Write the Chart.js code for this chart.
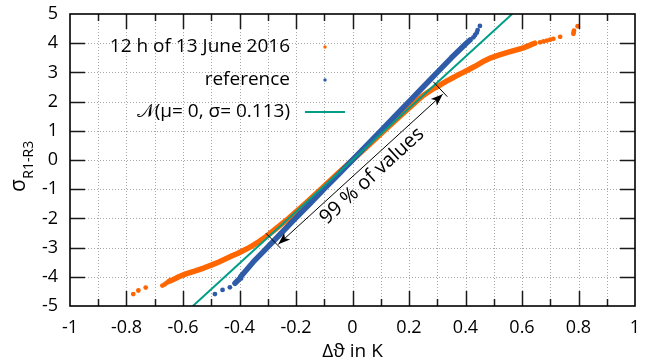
<!DOCTYPE html>
<html><head><meta charset="utf-8">
<script src="https://cdn.jsdelivr.net/npm/chart.js@4"></script>
<style>html,body{margin:0;padding:0;background:#fff}canvas{display:block}</style>
</head><body>
<canvas id="c" width="646" height="362"></canvas>
<script>
// ---------- data ----------
const seriesNames = ['12 h of 13 June 2016', 'reference', '\u{1D4A9}(\u03bc= 0, \u03c3= 0.113)'];

// 12 h of 13 June 2016 : dense band
const orangeBandY = [-4.14,-4.1,-4.05,-4.0,-3.9,-3.8,-3.7,-3.6,-3.5,-3.4,-3.3,-3.2,-3.1,-3.0,-2.9,-2.8,-2.7,-2.6,-2.5,-2.0,-1.5,-1.0,-0.5,0,0.5,1.0,1.5,2.0,2.2,2.4,2.5,2.6,2.7,2.8,2.9,3.0,3.1,3.2,3.3,3.4,3.5,3.6,3.7,3.8,3.85,3.9,3.95,4.0];
const orangeBandX = [-0.646,-0.636,-0.625,-0.615,-0.59,-0.556,-0.527,-0.50,-0.475,-0.452,-0.43,-0.407,-0.386,-0.366,-0.348,-0.332,-0.317,-0.303,-0.29,-0.226,-0.168,-0.112,-0.056,0,0.056,0.112,0.168,0.225,0.249,0.279,0.297,0.315,0.333,0.352,0.371,0.392,0.412,0.432,0.45,0.468,0.49,0.52,0.555,0.59,0.608,0.62,0.632,0.645];
// 12 h of 13 June 2016 : isolated tail values
const orangeTailY = [-4.59,-4.47,-4.37,-4.30,-4.26,-4.21,-4.17,4.03,4.06,4.09,4.12,4.15,4.22,4.32,4.38,4.43,4.58];
const orangeTailX = [-0.776,-0.758,-0.732,-0.673,-0.665,-0.658,-0.652,0.664,0.676,0.688,0.70,0.711,0.735,0.782,0.783,0.784,0.797];

// reference : dense band
const blueBandY = [-4.22,-4.05,-4.0,-3.5,-3.0,-2.5,-2.0,-1.5,-1.0,-0.5,0,0.5,1.0,1.5,2.0,2.5,3.0,3.5,4.0,4.11];
const blueBandX = [-0.416,-0.398,-0.396,-0.352,-0.302,-0.252,-0.202,-0.151,-0.101,-0.05,0,0.05,0.1,0.15,0.2,0.25,0.3,0.35,0.403,0.416];
// reference : isolated tail values
const blueTailY = [-4.59,-4.45,-4.36,4.2,4.28,4.36,4.45,4.59];
const blueTailX = [-0.487,-0.46,-0.434,0.428,0.434,0.44,0.443,0.451];

// N(0, 0.113) line
const normY = [-5, 5];
const normX = [-0.565, 0.565];

// axes
const xTickLabels = ['-1','-0.8','-0.6','-0.4','-0.2','0','0.2','0.4','0.6','0.8','1'];
const yTickLabels = ['-5','-4','-3','-2','-1','0','1','2','3','4','5'];

// annotation (data space): arrow tips, end bars, label
const arrowTips = [[-0.2627,-2.887],[0.3193,2.25]];
const barLow = [[-0.3062,-2.51],[-0.254,-3.024]];
const barHigh = [[0.286,2.68],[0.3356,2.168]];
const annoLabel = '99 % of values';
const annoLabelAt = [0.069,-0.548];

// ---------- styling ----------
const C_OR = '#ff6600', C_BL = '#2e5ca8', C_TE = '#009e87';
const FONT = "'Open Sans','DejaVu Sans',sans-serif";

const pts = (xs, ys) => xs.map((x, i) => ({x, y: ys[i]}));

const deco = {
  id: 'deco',
  beforeDatasetsDraw(chart) {
    const {ctx, chartArea: a, scales: {x, y}} = chart;
    ctx.save();
    ctx.strokeStyle = '#a8a8a8';
    ctx.lineWidth = 1;
    ctx.setLineDash([1, 2]);
    x.ticks.forEach(t => {
      if (Math.abs(t.value) > 0.99) return;
      const px = Math.round(x.getPixelForValue(t.value)) + 0.5;
      ctx.beginPath(); ctx.moveTo(px, a.top); ctx.lineTo(px, a.bottom); ctx.stroke();
    });
    y.ticks.forEach(t => {
      if (Math.abs(t.value) > 4.99) return;
      const py = Math.round(y.getPixelForValue(t.value)) + 0.5;
      ctx.beginPath(); ctx.moveTo(a.left, py); ctx.lineTo(a.right, py); ctx.stroke();
    });
    ctx.restore();
  },
  afterDatasetsDraw(chart) {
    const {ctx, chartArea: a, scales: {x, y}} = chart;
    ctx.save();
    // inward ticks
    ctx.strokeStyle = '#1a1a1a';
    ctx.lineWidth = 1.5;
    x.ticks.forEach(t => {
      const k = Math.round(t.value * 10);
      if (Math.abs(k) === 10) return;
      const len = (k % 2 === 0) ? 15 : 7;
      const px = Math.round(x.getPixelForValue(t.value)) + 0.5;
      ctx.beginPath();
      ctx.moveTo(px, a.bottom); ctx.lineTo(px, a.bottom - len);
      ctx.moveTo(px, a.top); ctx.lineTo(px, a.top + len);
      ctx.stroke();
    });
    y.ticks.forEach(t => {
      if (Math.abs(t.value) > 4.99) return;
      const py = Math.round(y.getPixelForValue(t.value)) + 0.5;
      ctx.beginPath();
      ctx.moveTo(a.left, py); ctx.lineTo(a.left + 15, py);
      ctx.moveTo(a.right, py); ctx.lineTo(a.right - 15, py);
      ctx.stroke();
    });
    // frame
    ctx.strokeStyle = '#000';
    ctx.lineWidth = 1.6;
    ctx.strokeRect(a.left, a.top, a.right - a.left, a.bottom - a.top);

    // legend (inside, top-left, right aligned text, key on the right)
    ctx.fillStyle = '#000';
    ctx.font = '19px ' + FONT;
    ctx.textAlign = 'right';
    ctx.textBaseline = 'middle';
    const tx = a.left + 220, kx = a.left + 255;
    const rows = [a.top + 33, a.top + 66, a.top + 98];
    ctx.fillText(seriesNames[0], tx, rows[0]);
    ctx.fillText(seriesNames[1], tx, rows[1]);
    ctx.fillText(seriesNames[2], tx, rows[2]);
    ctx.fillStyle = C_OR; ctx.beginPath(); ctx.arc(kx, rows[0], 1.7, 0, 2*Math.PI); ctx.fill();
    ctx.fillStyle = C_BL; ctx.beginPath(); ctx.arc(kx, rows[1], 1.7, 0, 2*Math.PI); ctx.fill();
    ctx.strokeStyle = C_TE; ctx.lineWidth = 2.2;
    ctx.beginPath(); ctx.moveTo(kx - 20, rows[2]); ctx.lineTo(kx + 20, rows[2]); ctx.stroke();

    // annotation
    const P = p => [x.getPixelForValue(p[0]), y.getPixelForValue(p[1])];
    const [l0, l1] = arrowTips.map(P);
    ctx.strokeStyle = '#000'; ctx.fillStyle = '#000'; ctx.lineWidth = 1;
    ctx.beginPath(); ctx.moveTo(l0[0], l0[1]); ctx.lineTo(l1[0], l1[1]); ctx.stroke();
    [barLow, barHigh].forEach(b => {
      const [b0, b1] = b.map(P);
      ctx.beginPath(); ctx.moveTo(b0[0], b0[1]); ctx.lineTo(b1[0], b1[1]); ctx.stroke();
    });
    const head = (tip, from) => {
      const ang = Math.atan2(tip[1] - from[1], tip[0] - from[0]);
      const L = 12, W = 4.5, N = 9;
      ctx.save(); ctx.translate(tip[0], tip[1]); ctx.rotate(ang);
      ctx.beginPath(); ctx.moveTo(0, 0); ctx.lineTo(-L, -W); ctx.lineTo(-N, 0); ctx.lineTo(-L, W); ctx.closePath(); ctx.fill();
      ctx.restore();
    };
    head(l1, l0); head(l0, l1);
    const ang = Math.atan2(l1[1] - l0[1], l1[0] - l0[0]);
    const c = P(annoLabelAt);
    ctx.save(); ctx.translate(c[0], c[1]); ctx.rotate(ang);
    ctx.font = '20px ' + FONT; ctx.textAlign = 'center'; ctx.textBaseline = 'middle';
    ctx.fillText(annoLabel, 0, 0);
    ctx.restore();

    // axis titles
    ctx.fillStyle = '#000';
    ctx.font = '19px ' + FONT; ctx.textAlign = 'center'; ctx.textBaseline = 'alphabetic';
    ctx.fillText('\u0394\u03d1 in K', (a.left + a.right) / 2, 357);
    ctx.save();
    ctx.translate(25, 192); ctx.rotate(-Math.PI / 2);
    ctx.textAlign = 'left';
    ctx.font = '21px ' + FONT;
    ctx.fillText('\u03c3', 0, 0);
    const w = ctx.measureText('\u03c3').width;
    ctx.font = '14px ' + FONT;
    ctx.fillText('R1-R3', w + 0.5, 8);
    ctx.restore();
    ctx.restore();
  }
};

new Chart(document.getElementById('c'), {
  type: 'scatter',
  data: {
    datasets: [
      {label: seriesNames[2], data: pts(normX, normY), showLine: true, borderColor: C_TE, borderWidth: 2, pointRadius: 0, order: 0},
      {label: seriesNames[1], data: pts(blueTailX, blueTailY), backgroundColor: C_BL, borderWidth: 0, pointRadius: 2.4, order: 1},
      {label: seriesNames[1], data: pts(blueBandX, blueBandY), showLine: true, borderColor: C_BL, borderWidth: 5.5, borderCapStyle: 'round', borderJoinStyle: 'round', pointRadius: 0, order: 2},
      {label: seriesNames[0], data: pts(orangeTailX, orangeTailY), backgroundColor: C_OR, borderWidth: 0, pointRadius: 2.4, order: 3},
      {label: seriesNames[0], data: pts(orangeBandX, orangeBandY), showLine: true, borderColor: C_OR, borderWidth: 5.5, borderCapStyle: 'round', borderJoinStyle: 'round', pointRadius: 0, order: 4}
    ]
  },
  options: {
    responsive: false,
    devicePixelRatio: 1,
    animation: false,
    events: [],
    layout: {padding: {top: 14, right: 11, left: 0, bottom: 0}},
    plugins: {legend: {display: false}, tooltip: {enabled: false}},
    scales: {
      x: {
        type: 'linear', min: -1, max: 1,
        grid: {display: false, drawTicks: false},
        border: {display: false},
        afterFit: s => { s.height = 56; s.paddingLeft = 0; s.paddingRight = 0; },
        ticks: {
          stepSize: 0.1, autoSkip: false, maxRotation: 0, padding: 11,
          color: '#000', font: {family: FONT, size: 18},
          callback: v => { const k = Math.round(v * 10); return (k % 2 === 0) ? xTickLabels[(k + 10) / 2] : ''; }
        }
      },
      y: {
        type: 'linear', min: -5, max: 5,
        grid: {display: false, drawTicks: false},
        border: {display: false},
        afterFit: s => { s.width = 70; s.paddingTop = 0; s.paddingBottom = 0; },
        ticks: {
          stepSize: 1, autoSkip: false, padding: 12,
          color: '#000', font: {family: FONT, size: 18},
          callback: v => yTickLabels[Math.round(v) + 5]
        }
      }
    }
  },
  plugins: [deco]
});
</script>
</body></html>
